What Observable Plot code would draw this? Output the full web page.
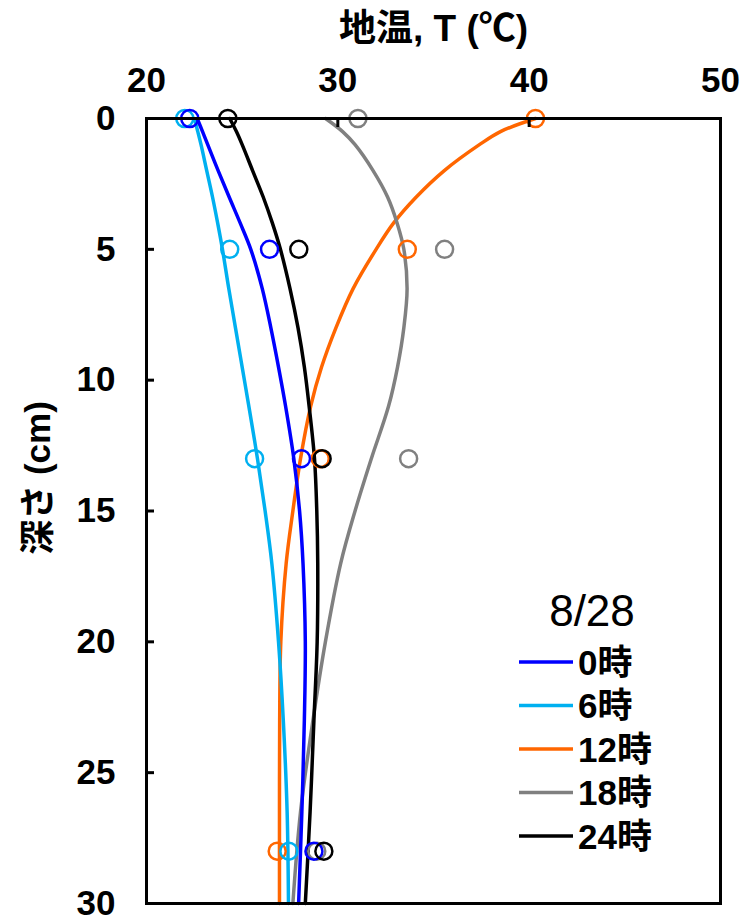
<!DOCTYPE html>
<html><head><meta charset="utf-8">
<script src="https://cdn.jsdelivr.net/npm/d3@7"></script>
<script src="https://cdn.jsdelivr.net/npm/@observablehq/plot@0.6"></script>
<style>body{margin:0;background:#fff;} svg{display:block}</style>
</head><body><div id="chart"></div>
<script>
// ---- data ----
const seriesNames = ["0時", "6時", "12時", "18時", "24時"];
const seriesColors = ["#0000FF", "#00B0F0", "#FF6600", "#808080", "#000000"];
const drawOrder = ["12時", "18時", "6時", "0時", "24時"];
const legendTitle = "8/28";
const xLabel = "地温, T (℃)";
const yLabel = "深さ (cm)";
const xTicks = [20, 30, 40, 50];
const yTicks = [0, 5, 10, 15, 20, 25, 30];

// observed temperatures at depths
const obsDepths = [0, 5, 13, 28];
const obs0h  = [22.26, 26.43, 28.10, 28.75];
const obs6h  = [22.00, 24.35, 25.65, 27.44];
const obs12h = [40.33, 33.63, 29.08, 26.83];
const obs18h = [31.05, 35.58, 33.70, 28.90];
const obs24h = [24.25, 27.96, 29.18, 29.27];

// fitted profiles
const curveDepths = [0, 0.5, 1, 2, 3, 4, 5, 6.5, 8, 9.5, 11, 13, 15, 17, 20, 23, 26.5, 30];
const curve0h  = [22.65, 22.93, 23.20, 23.75, 24.32, 24.90, 25.45, 26.05, 26.50, 26.90, 27.27, 27.70, 28.00, 28.18, 28.30, 28.25, 28.12, 27.95];
const curve6h  = [22.50, 22.68, 22.85, 23.15, 23.45, 23.72, 23.97, 24.30, 24.65, 25.00, 25.35, 25.80, 26.20, 26.55, 26.90, 27.15, 27.35, 27.42];
const curve12h = [40.33, 38.50, 37.40, 35.55, 34.10, 32.91, 32.00, 30.80, 29.90, 29.15, 28.58, 28.05, 27.65, 27.30, 27.02, 26.96, 26.95, 26.95];
const curve18h = [29.36, 30.25, 30.90, 31.85, 32.60, 33.10, 33.45, 33.62, 33.45, 33.12, 32.65, 31.75, 30.90, 30.15, 29.35, 28.70, 28.05, 27.65];
const curve24h = [24.35, 24.70, 25.00, 25.55, 26.10, 26.58, 27.00, 27.50, 27.92, 28.25, 28.50, 28.78, 28.90, 28.95, 28.92, 28.75, 28.55, 28.30];

const obsBySeries = {"0時": obs0h, "6時": obs6h, "12時": obs12h, "18時": obs18h, "24時": obs24h};
const curveBySeries = {"0時": curve0h, "6時": curve6h, "12時": curve12h, "18時": curve18h, "24時": curve24h};

const obsRows = drawOrder.flatMap(s => obsDepths.map((d, j) => ({series: s, depth: d, temp: obsBySeries[s][j]})));
const curveRows = drawOrder.flatMap(s => curveDepths.map((d, j) => ({series: s, depth: d, temp: curveBySeries[s][j]})));

const FONT = '"Liberation Sans", Arial, "Noto Sans CJK JP", sans-serif';

const svg = Plot.plot({
  width: 747, height: 917,
  marginLeft: 146, marginRight: 27, marginTop: 118, marginBottom: 14,
  style: {fontFamily: FONT, background: "white", overflow: "visible", color: "black"},
  x: {domain: [20, 50], axis: null},
  y: {domain: [0, 30], reverse: true, axis: null},
  color: {domain: seriesNames, range: seriesColors},
  marks: [
    Plot.line(curveRows, {x: "temp", y: "depth", z: "series", stroke: "series", strokeWidth: 3.5, curve: "catmull-rom"}),
    Plot.dot(obsRows, {x: "temp", y: "depth", stroke: "series", r: 8.5, strokeWidth: 2.5, fill: "none"}),
    Plot.frame({stroke: "black", strokeWidth: 3}),
    Plot.axisX({anchor: "top", ticks: xTicks, tickSize: -8, strokeWidth: 3, text: null, label: null}),
    Plot.axisY({anchor: "left", ticks: yTicks, tickSize: -8, strokeWidth: 3, text: null, label: null}),
    Plot.axisX({anchor: "top", ticks: xTicks, tickSize: 0, tickPadding: 27, fontSize: 35, fontWeight: "bold", label: null}),
    Plot.axisY({anchor: "left", ticks: yTicks, tickSize: 0, tickPadding: 31, fontSize: 35, fontWeight: "bold", label: null}),
    Plot.text([xLabel], {frameAnchor: "top", lineAnchor: "middle", textAnchor: "middle", dy: -89, fontSize: 37, fontWeight: "bold", fill: "black"}),
    Plot.text([yLabel], {frameAnchor: "left", lineAnchor: "middle", textAnchor: "middle", rotate: -90, dx: -108, dy: -33, fontSize: 35, fontWeight: "bold", fill: "black"})
  ]
});
document.getElementById("chart").appendChild(svg);

// legend
const lg = d3.select(svg).append("g").attr("font-family", FONT).attr("text-anchor", "start");
lg.append("text").attr("x", 592).attr("y", 626).attr("text-anchor", "middle")
  .attr("font-size", 44).attr("fill", "black").text(legendTitle);
seriesNames.forEach((s, i) => {
  const y = 662 + i * 43.5;
  lg.append("line").attr("x1", 519).attr("x2", 573).attr("y1", y).attr("y2", y)
    .attr("stroke", seriesColors[i]).attr("stroke-width", 3.5);
  lg.append("text").attr("x", 578).attr("y", y).attr("dy", "0.36em").attr("text-anchor", "start")
    .attr("font-size", 35).attr("font-weight", "bold").attr("fill", "black").text(s);
});
</script>
</body></html>
